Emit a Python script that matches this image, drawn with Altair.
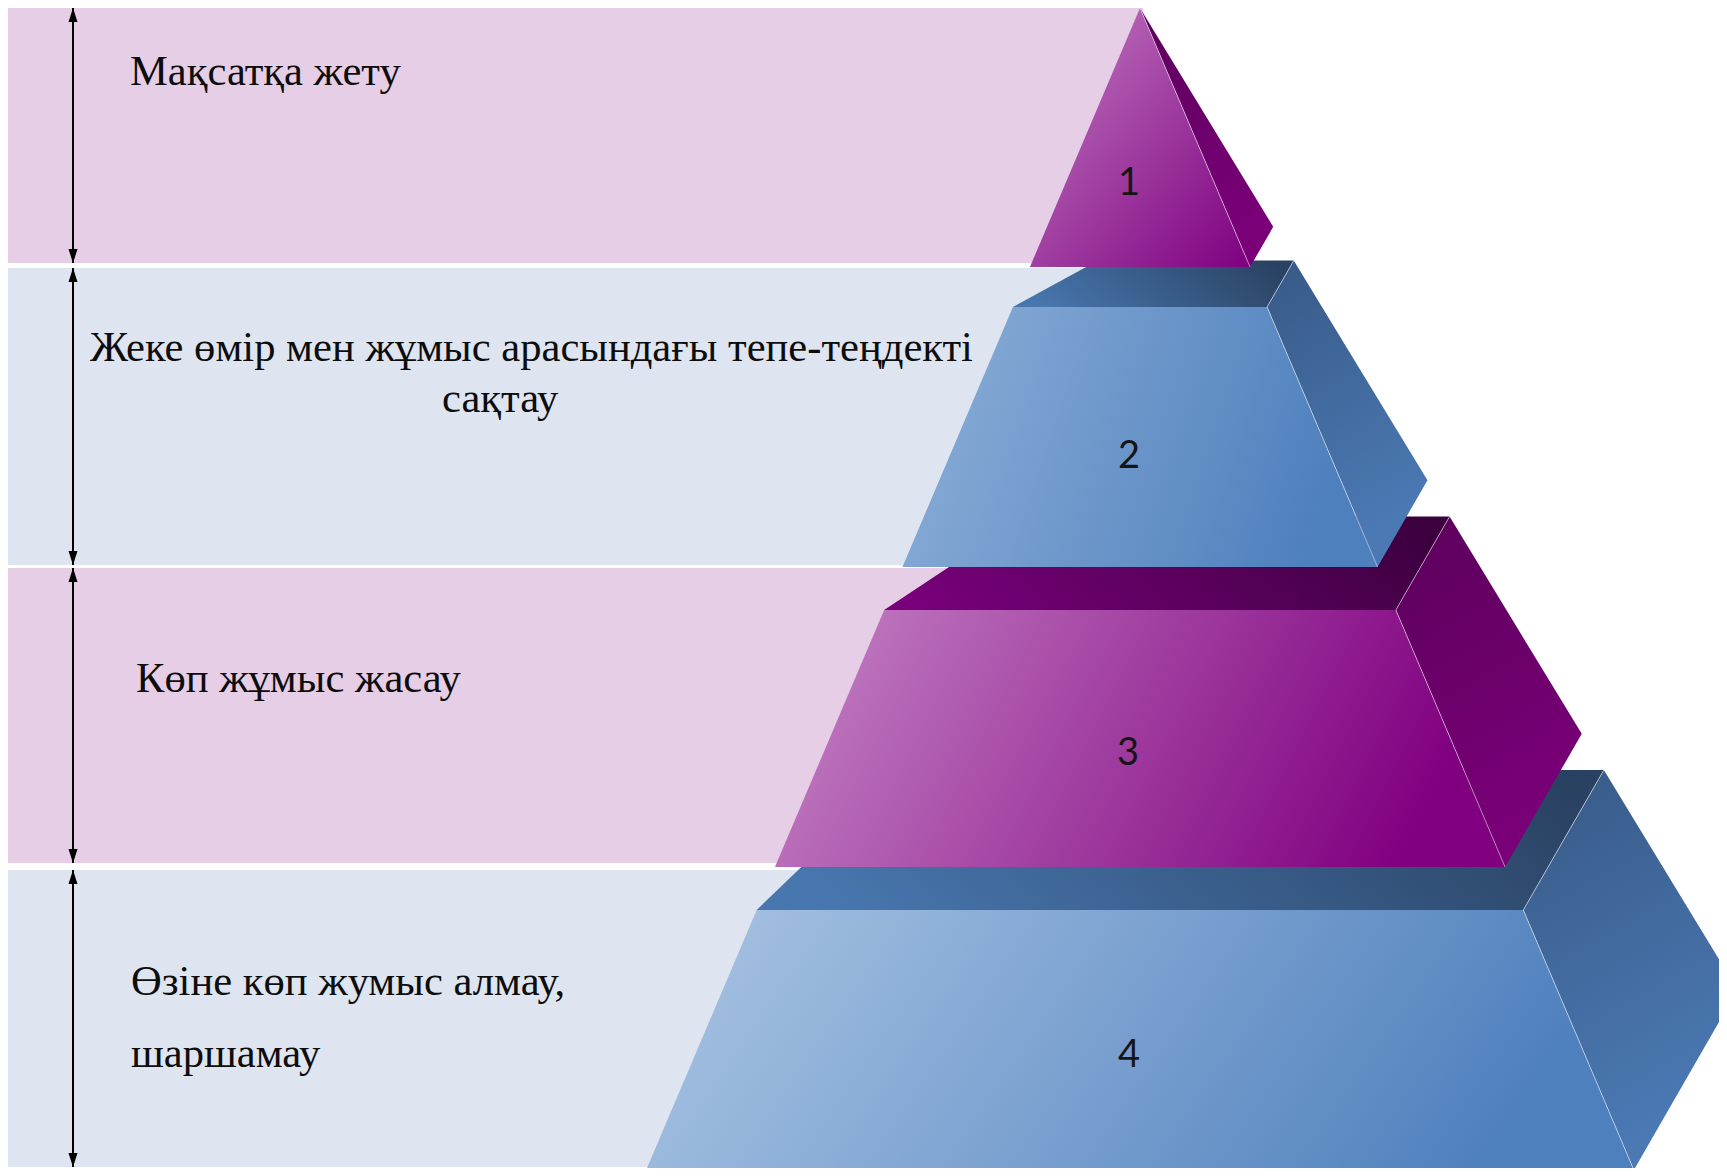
import altair as alt
import pandas as pd

# ---------------- content ----------------
levels = [1, 2, 3, 4]
level_numbers = ["1", "2", "3", "4"]
label_lines = [
    ["Мақсатқа жету"],
    ["Жеке өмір мен жұмыс арасындағы тепе-теңдекті", "сақтау"],
    ["Көп жұмыс жасау"],
    ["Өзіне көп жумыс алмау,", "шаршамау"],
]
level_theme = ["purple", "blue", "purple", "blue"]

# ---------------- styles ----------------
BAND_FILL = {"purple": "#E6CEE6", "blue": "#DEE5F1"}
SIDE_STOPS = {"purple": ("#5C005C", "#7A0078"), "blue": ("#375A87", "#4B79B4")}
TOP_STOPS = {"purple": ("#78007A", "#3C003F"), "blue": ("#4877B0", "#2A4262")}
FRONT_STOPS = [("#C27DC2", "#7E0080"), ("#8DAFD8", "#4E80BD"),
               ("#C584C5", "#800080"), ("#ABC5E4", "#4E80BD")]
SERIF = "Liberation Serif"
SANS = "Lato"

# ---------------- layout geometry (page pixels) ----------------
W, H = 1711, 1160
ORIGIN = 8
BAND_X0, BAND_X1 = 8, 1143
BAND_TOP = [8, 268, 568, 870]
BAND_BOT = [263, 565, 863, 1167]
ARROW_X = 73
APEX_X, APEX_Y = 1140, 8
SLOPE = 0.425
FACE_TOP = [8, 307, 610, 910]
FACE_BOT = [267, 567, 867, 1170]
DEPTH_DX, DEPTH_DY = 0.21, 0.365
TOP_LEFT_SKEW = [0.0, 0.67, 0.55, 0.38]
LABEL_POS = [[(130, 85)], [(90, 361), (442, 412)], [(136, 692)], [(131, 995), (131, 1067)]]
NUMBER_POS = [(1129, 195), (1129, 468), (1128, 765), (1129, 1067)]

xs = alt.Scale(domain=[ORIGIN, ORIGIN + W], nice=False, zero=False)
ys = alt.Scale(domain=[ORIGIN, ORIGIN + H], reverse=True, nice=False, zero=False)
X = lambda f: alt.X(f, type="quantitative", scale=xs, axis=None)
Y = lambda f: alt.Y(f, type="quantitative", scale=ys, axis=None)


def hw(y):
    return SLOPE * (y - APEX_Y)


def xl(y):
    return APEX_X - hw(y)


def xr(y):
    return APEX_X + hw(y)


def hband(vertices):
    ys_ = sorted(set(float(v[1]) for v in vertices))
    n = len(vertices)
    rows = []
    for y in ys_:
        cut = []
        for i in range(n):
            (x1, y1), (x2, y2) = vertices[i], vertices[(i + 1) % n]
            if min(y1, y2) - 1e-6 <= y <= max(y1, y2) + 1e-6:
                if abs(y2 - y1) < 1e-9:
                    cut += [x1, x2]
                else:
                    cut.append(x1 + (x2 - x1) * (y - y1) / (y2 - y1))
        rows.append({"y": y, "x": min(cut), "x2": max(cut)})
    return pd.DataFrame(rows)


def grad(c0, c1, x1, y1, x2, y2):
    return alt.Gradient(
        gradient="linear",
        stops=[alt.GradientStop(color=c0, offset=0), alt.GradientStop(color=c1, offset=1)],
        x1=x1, y1=y1, x2=x2, y2=y2,
    )


def poly(vertices, fill):
    return alt.Chart(hband(vertices)).mark_area(
        orient="horizontal", color=fill, clip=True, strokeWidth=0
    ).encode(x=X("x"), x2=alt.X2("x2"), y=Y("y"))


layers = []

# background bands
band_df = pd.DataFrame({
    "x": [BAND_X0] * 4, "x2": [BAND_X1] * 4,
    "y": BAND_TOP, "y2": BAND_BOT,
    "fill": [BAND_FILL[t] for t in level_theme],
})
layers.append(alt.Chart(band_df).mark_rect().encode(
    x=X("x"), x2=alt.X2("x2"), y=Y("y"), y2=alt.Y2("y2"),
    fill=alt.Fill("fill:N", scale=None)))

# arrows
arrow_df = pd.DataFrame({"x": [ARROW_X] * 4, "y": BAND_TOP, "y2": BAND_BOT})
layers.append(alt.Chart(arrow_df).mark_rule(color="black", strokeWidth=2).encode(
    x=X("x"), y=Y("y"), y2=alt.Y2("y2")))
layers.append(alt.Chart(arrow_df).mark_point(
    shape="M0,0L-0.9,2.8L0.9,2.8Z", filled=True, size=100, color="black", opacity=1
).encode(x=X("x"), y=Y("y")))
layers.append(alt.Chart(arrow_df).mark_point(
    shape="M0,0L-0.9,-2.8L0.9,-2.8Z", filled=True, size=100, color="black", opacity=1
).encode(x=X("x"), y=Y("y2")))

# pyramid, drawn from the bottom slab up
edges = []
for i in reversed(range(4)):
    theme = level_theme[i]
    yt, yb = FACE_TOP[i], FACE_BOT[i]
    ht, hb = hw(yt), hw(yb)
    if ht > 0:
        top = [(xl(yt), yt), (xr(yt), yt),
               (xr(yt) + DEPTH_DX * ht, yt - DEPTH_DY * ht),
               (xl(yt) + TOP_LEFT_SKEW[i] * ht, yt - DEPTH_DY * ht)]
        layers.append(poly(top, grad(*TOP_STOPS[theme], 0, 0.6, 1, 0.4)))
        edges.append({"x": xr(yt), "y": yt, "x2": xr(yt) + DEPTH_DX * ht, "y2": yt - DEPTH_DY * ht})
    side = [(xr(yt), yt), (xr(yt) + DEPTH_DX * ht, yt - DEPTH_DY * ht),
            (xr(yb) + DEPTH_DX * hb, yb - DEPTH_DY * hb), (xr(yb), yb)]
    layers.append(poly(side, grad(*SIDE_STOPS[theme], 0, 0, 0.3, 1)))
    front = [(xl(yt), yt), (xr(yt), yt), (xr(yb), yb), (xl(yb), yb)]
    if i == 0:
        layers.append(poly(front, grad(*FRONT_STOPS[i], 0, 0, 1, 1)))
    else:
        layers.append(poly(front, grad(*FRONT_STOPS[i], 0, 0, 1, 0.18)))
    edges.append({"x": xr(yt), "y": yt, "x2": xr(yb), "y2": yb})

layers.append(alt.Chart(pd.DataFrame(edges)).mark_rule(
    color="white", opacity=0.5, strokeWidth=1).encode(
    x=X("x"), y=Y("y"), x2=alt.X2("x2"), y2=alt.Y2("y2")))

# numbers
num_df = pd.DataFrame({
    "t": level_numbers,
    "x": [p[0] for p in NUMBER_POS],
    "y": [p[1] for p in NUMBER_POS],
})
layers.append(alt.Chart(num_df).mark_text(
    font=SANS, fontSize=38, color="#151515", align="center", baseline="alphabetic"
).encode(x=X("x"), y=Y("y"), text="t:N"))

# labels
rows = []
for lines, pos in zip(label_lines, LABEL_POS):
    for line, (px, py) in zip(lines, pos):
        rows.append({"t": line, "x": px, "y": py})
lab_df = pd.DataFrame(rows)
layers.append(alt.Chart(lab_df).mark_text(
    font=SERIF, fontSize=42.6, color="#0d0d0d", align="left", baseline="alphabetic"
).encode(x=X("x"), y=Y("y"), text="t:N"))

chart = alt.layer(*layers).properties(
    width=W, height=H,
    autosize=alt.AutoSizeParams(type="none"),
    padding=0,
    background="white",
).configure_view(stroke=None)

chart.save("out.html", embed_options={"renderer": "svg", "actions": False})
